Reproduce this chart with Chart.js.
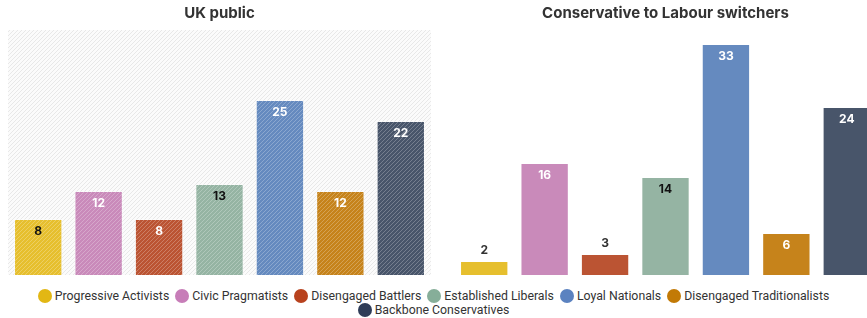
<!DOCTYPE html>
<html>
<head>
<meta charset="utf-8">
<script src="https://cdn.jsdelivr.net/npm/chart.js@4.4.1/dist/chart.umd.min.js"></script>
<style>
  body { margin: 0; width: 867px; height: 318px; overflow: hidden; background: #fff; position: relative; font-family: Inter, sans-serif; }
  .box { position: absolute; top: 0; height: 284px; }
  #izq { left: 8px; width: 423px; }
  #der { left: 454px; width: 423px; }
  #leyenda { position: absolute; left: 0; top: 289px; width: 867px; display: flex; flex-wrap: wrap; justify-content: center; font-family: Roboto, sans-serif; font-size: 12.3px; color: #333; line-height: 14px; }
  #leyenda span { display: inline-flex; align-items: center; margin: 0 3px 0 3px; }
  #leyenda i { display: inline-block; width: 14px; height: 14px; border-radius: 50%; margin-right: 3px; }
</style>
</head>
<body>
<div class="box" id="izq"><canvas id="graficoPublico"></canvas></div>
<div class="box" id="der"><canvas id="graficoSwitchers"></canvas></div>
<div id="leyenda"></div>
<script>
// Datos del gráfico
const segmentos = ['Progressive Activists', 'Civic Pragmatists', 'Disengaged Battlers', 'Established Liberals', 'Loyal Nationals', 'Disengaged Traditionalists', 'Backbone Conservatives'];
const ukPublico = [8, 12, 8, 13, 25, 12, 22];
const switchers = [2, 16, 3, 14, 33, 6, 24];
const colores = ['#e6bf2e', '#c98aba', '#bb5433', '#95b4a3', '#658abf', '#c6831b', '#48556a'];
const coloresLeyenda = ['#e2b714', '#c77db8', '#b8421e', '#86ae99', '#5b82c0', '#c27a06', '#2f3d58'];
const textoOscuro = [true, false, false, true, false, false, false];

// Patrón rayado para las barras
function rayado(color, fondo) {
    const c = document.createElement('canvas');
    c.width = 4; c.height = 4;
    const g = c.getContext('2d');
    g.fillStyle = fondo || color;
    g.fillRect(0, 0, 4, 4);
    g.strokeStyle = fondo ? color : 'rgba(255,255,255,0.25)';
    g.lineWidth = 1;
    g.beginPath();
    g.moveTo(-1, 5); g.lineTo(5, -1);
    g.moveTo(-1, 1); g.lineTo(1, -1);
    g.moveTo(3, 5); g.lineTo(5, 3);
    g.stroke();
    return g.createPattern(c, 'repeat');
}

// Fondo rayado del área del gráfico
const fondoRayado = {
    id: 'fondoRayado',
    beforeDraw(chart, args, opts) {
        if (!opts.activo) return;
        const a = chart.chartArea;
        const ctx = chart.ctx;
        ctx.save();
        ctx.fillStyle = rayado('#e8e8e8', '#fbfbfb');
        ctx.fillRect(a.left, a.top, a.right - a.left, a.bottom - a.top);
        ctx.restore();
    }
};

// Etiquetas con el valor de cada barra
const etiquetas = {
    id: 'etiquetas',
    afterDatasetsDraw(chart) {
        const ctx = chart.ctx;
        const meta = chart.getDatasetMeta(0);
        const datos = chart.data.datasets[0].data;
        ctx.save();
        ctx.font = 'bold 12px Inter, sans-serif';
        ctx.textAlign = 'center';
        ctx.textBaseline = 'middle';
        meta.data.forEach((barra, i) => {
            const v = datos[i];
            let y = barra.y + 12;
            ctx.fillStyle = textoOscuro[i] ? '#111' : '#fff';
            if (v < 5) {
                y = barra.y - 11;
                ctx.fillStyle = '#333';
            }
            ctx.fillText(v, barra.x, y);
        });
        ctx.restore();
    }
};

function crearGrafico(id, titulo, valores, conRayas) {
    const ctx = document.getElementById(id).getContext('2d');
    return new Chart(ctx, {
        type: 'bar',
        data: {
            labels: segmentos,
            datasets: [{
                data: valores,
                backgroundColor: colores.map(c => conRayas ? rayado(c) : c),
                borderColor: 'rgba(255,255,255,0.35)',
                borderWidth: 1,
                barPercentage: 0.8,
                categoryPercentage: 1
            }]
        },
        options: {
            responsive: true,
            maintainAspectRatio: false,
            animation: false,
            layout: { padding: { top: 0, bottom: 9 } },
            scales: {
                x: { display: false },
                y: { display: false, min: 0, max: 35 }
            },
            plugins: {
                legend: { display: false },
                tooltip: { enabled: false },
                title: {
                    display: true,
                    text: titulo,
                    color: '#333',
                    font: { size: 15, weight: 'bold', family: 'Inter, sans-serif' },
                    padding: { top: 4, bottom: 8 }
                },
                fondoRayado: { activo: conRayas }
            }
        },
        plugins: [fondoRayado, etiquetas]
    });
}

crearGrafico('graficoPublico', 'UK public', ukPublico, true);
crearGrafico('graficoSwitchers', 'Conservative to Labour switchers', switchers, false);

// Leyenda común
const leyenda = document.getElementById('leyenda');
segmentos.forEach((s, i) => {
    const item = document.createElement('span');
    item.innerHTML = `<i style="background:${coloresLeyenda[i]}"></i>${s}`;
    leyenda.appendChild(item);
});
</script>
</body>
</html>
